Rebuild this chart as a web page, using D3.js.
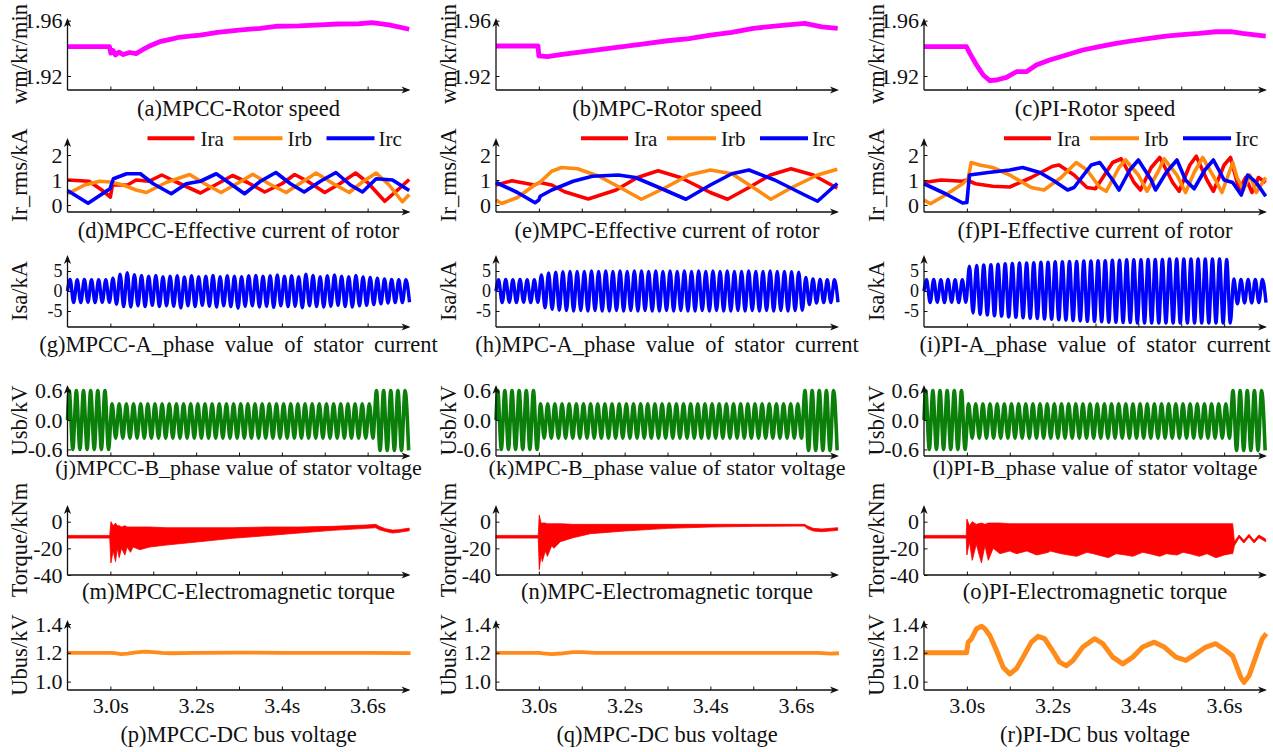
<!DOCTYPE html>
<html><head><meta charset="utf-8">
<script src="https://cdn.jsdelivr.net/npm/d3@7"></script>
<style>
html,body{margin:0;padding:0;background:#fff;}
svg text{font-family:"Liberation Serif","Times New Roman",serif;fill:#111;}
</style></head><body>
<svg id="chart" width="1273" height="752"></svg>
<script>
// ---------------- data ----------------
const timeDomain = [2.9, 3.7];
const timeTickLabels = [3.0, 3.2, 3.4, 3.6];
const timeTickAll = [3.0, 3.1, 3.2, 3.3, 3.4, 3.5, 3.6];
const controllers = ["MPCC", "MPC", "PI"];
const GRID_HZ = 60;

// rotor speed (kr/min)
const speedMPCC = [[2.9,1.9412],[2.998,1.9412],[3.001,1.9365],[3.006,1.9385],[3.012,1.9352],[3.02,1.9372],[3.03,1.9355],[3.045,1.937],[3.06,1.9362],[3.075,1.939],[3.09,1.9415],[3.115,1.9448],[3.14,1.9465],[3.16,1.948],[3.185,1.9488],[3.21,1.9496],[3.25,1.9515],[3.3,1.9532],[3.35,1.9545],[3.39,1.956],[3.44,1.9562],[3.49,1.957],[3.53,1.9576],[3.58,1.9578],[3.61,1.9586],[3.65,1.957],[3.697,1.9538]];
const speedMPC = [[2.9,1.9417],[2.998,1.9417],[3.0,1.9345],[3.02,1.934],[3.05,1.9355],[3.1,1.9375],[3.15,1.9395],[3.2,1.9415],[3.25,1.9435],[3.3,1.9455],[3.35,1.947],[3.4,1.9495],[3.45,1.9515],[3.5,1.9545],[3.55,1.956],[3.6,1.9575],[3.62,1.958],[3.66,1.9555],[3.697,1.9545]];
const speedPI = [[2.9,1.9412],[2.999,1.9412],[3.007,1.9364],[3.0225,1.928],[3.038,1.9207],[3.0535,1.9166],[3.069,1.9171],[3.0923,1.919],[3.1156,1.9231],[3.1388,1.9231],[3.162,1.928],[3.193,1.9316],[3.232,1.9352],[3.2705,1.9388],[3.309,1.9412],[3.348,1.9436],[3.3867,1.9455],[3.4256,1.9472],[3.4644,1.9489],[3.503,1.9499],[3.542,1.9508],[3.5807,1.952],[3.6193,1.952],[3.6426,1.9508],[3.697,1.9489]];

// rotor current rms (kA)
const iraMPCC = [[2.90,1.0],[2.95,0.95],[2.98,0.6],[3.0,0.32],[3.005,0.8],[3.04,0.8],[3.06,1.0],[3.09,0.95],[3.12,1.2],[3.15,0.95],[3.21,0.48],[3.25,0.85],[3.285,1.18],[3.32,0.9],[3.36,0.52],[3.40,0.85],[3.43,1.22],[3.46,0.95],[3.50,0.5],[3.535,0.85],[3.572,1.28],[3.60,0.9],[3.64,0.15],[3.67,0.6],[3.697,1.02]];
const irbMPCC = [[2.90,0.45],[2.94,0.8],[2.975,0.95],[3.0,0.92],[3.03,0.8],[3.06,0.6],[3.084,0.5],[3.13,0.9],[3.185,1.22],[3.22,0.85],[3.258,0.5],[3.30,0.9],[3.332,1.23],[3.37,0.85],[3.41,0.5],[3.45,0.95],[3.48,1.28],[3.52,0.85],[3.557,0.5],[3.59,0.95],[3.62,1.28],[3.65,0.8],[3.681,0.13],[3.697,0.42]];
const ircMPCC = [[2.90,0.58],[2.948,0.07],[2.999,0.65],[3.007,1.05],[3.038,1.25],[3.07,1.25],[3.10,0.85],[3.142,0.45],[3.177,0.85],[3.21,0.95],[3.247,1.25],[3.28,0.85],[3.313,0.45],[3.35,0.95],[3.386,1.3],[3.42,0.85],[3.452,0.52],[3.49,0.95],[3.526,1.3],[3.56,0.8],[3.588,0.52],[3.62,1.05],[3.658,1.0],[3.697,0.58]];
const iraMPC = [[2.90,0.8],[2.937,0.97],[2.99,0.8],[3.002,0.9],[3.03,0.8],[3.06,0.53],[3.115,0.24],[3.18,0.6],[3.23,1.1],[3.278,1.37],[3.33,1.1],[3.40,0.5],[3.44,0.23],[3.49,0.7],[3.54,1.2],[3.588,1.45],[3.64,1.2],[3.696,0.67]];
const irbMPC = [[2.90,0.2],[2.913,0.06],[2.95,0.3],[2.99,0.8],[3.002,0.9],[3.03,1.35],[3.053,1.5],[3.09,1.45],[3.14,1.15],[3.2,0.6],[3.239,0.23],[3.29,0.65],[3.35,1.2],[3.40,1.4],[3.45,1.25],[3.50,0.7],[3.541,0.23],[3.59,0.7],[3.65,1.2],[3.696,1.43]];
const ircMPC = [[2.90,0.9],[2.95,0.5],[2.991,0.09],[3.0,0.2],[3.003,0.35],[3.03,0.6],[3.08,0.95],[3.125,1.15],[3.185,1.2],[3.225,1.1],[3.28,0.7],[3.343,0.23],[3.40,0.8],[3.45,1.25],[3.49,1.4],[3.55,1.0],[3.62,0.4],[3.65,0.15],[3.696,0.86]];
const iraPI = [[2.9,0.9],[2.94,1.0],[2.99,0.95],[3.0,1.0],[3.02,0.85],[3.06,0.75],[3.1,0.72],[3.15,1.1],[3.2,1.55],[3.215,1.6],[3.25,1.2],[3.28,0.7],[3.30,0.65],[3.34,1.7],[3.36,1.85],[3.39,0.9],[3.405,0.6],[3.43,1.5],[3.45,1.9],[3.48,0.9],[3.495,0.55],[3.52,1.6],[3.535,1.95],[3.56,1.0],[3.575,0.55],[3.60,1.6],[3.615,1.9],[3.635,0.6],[3.65,1.1],[3.665,0.5],[3.68,1.1],[3.697,0.9]];
const irbPI = [[2.9,0.2],[2.915,0.05],[2.95,0.4],[2.99,0.85],[3.003,1.05],[3.01,1.7],[3.03,1.6],[3.06,1.5],[3.1,1.2],[3.15,0.7],[3.18,0.6],[3.22,1.1],[3.255,1.7],[3.28,1.4],[3.31,0.7],[3.325,0.55],[3.355,1.5],[3.37,1.8],[3.40,1.2],[3.42,0.55],[3.445,1.3],[3.46,1.85],[3.49,1.2],[3.51,0.5],[3.53,1.3],[3.55,1.9],[3.58,1.0],[3.595,0.5],[3.62,1.7],[3.63,1.1],[3.645,0.6],[3.66,1.2],[3.675,0.5],[3.697,1.1]];
const ircPI = [[2.9,0.85],[2.95,0.45],[2.99,0.08],[3.0,0.1],[3.006,1.2],[3.05,1.3],[3.1,1.4],[3.13,1.5],[3.17,1.3],[3.2,1.0],[3.235,0.6],[3.25,0.7],[3.29,1.6],[3.31,1.7],[3.34,1.0],[3.355,0.6],[3.38,1.4],[3.40,1.8],[3.43,1.0],[3.44,0.6],[3.465,1.3],[3.49,1.8],[3.51,1.0],[3.53,0.65],[3.555,1.4],[3.575,1.8],[3.6,1.0],[3.62,0.9],[3.64,0.4],[3.655,1.2],[3.675,0.9],[3.697,0.35]];

// stator current A phase: positive / negative peak of every grid cycle (kA)
const isaHiMPCC = [2.9,2.8,2.9,2.8,2.8,2.8, 3.2,4.2,4.6,4.1,3.9,3.7, 3.9,3.6,3.7,3.8,3.5,3.8, 3.6,3.7,3.9,3.6,3.8,3.7, 3.6,3.8,3.9,3.7,3.8,4.0, 3.7,3.8,3.6,4.2,3.9,3.6, 3.8,4.0,3.7,3.6,3.9,3.5, 3.4,3.2,3.0,2.9,2.8,2.8];
const isaLoMPCC = [-2.9,-2.9,-2.8,-2.9,-2.8,-2.8, -3.3,-3.9,-4.0,-3.7,-3.9,-3.6, -3.9,-3.7,-3.8,-4.2,-3.7,-3.9, -3.6,-3.8,-4.0,-3.7,-3.9,-4.3, -3.8,-3.7,-4.0,-3.8,-4.1,-3.7, -3.9,-3.8,-4.2,-3.7,-3.9,-4.0, -3.8,-3.6,-3.9,-4.0,-3.7,-3.6, -3.4,-3.2,-3.0,-2.9,-2.9,-2.8];
const isaHiMPC = [2.8,2.9,2.8,2.9,2.8,2.8, 4.0,4.5,4.7,4.8,4.9,4.9, 4.9,5.0,4.9,5.0,4.9,5.0, 4.9,5.0,5.0,4.9,5.0,4.9, 5.0,4.9,5.0,4.9,5.0,4.9, 5.0,4.9,5.0,4.9,4.9,5.0, 4.9,4.9,5.0,4.9,4.9,4.8, 4.7,3.4,3.0,2.9,2.8,2.8];
const isaLoMPC = [-2.9,-2.8,-2.9,-2.8,-2.9,-2.8, -4.2,-4.6,-4.8,-4.9,-5.0,-4.9, -5.0,-4.9,-5.0,-5.0,-4.9,-5.0, -4.9,-5.0,-4.9,-5.0,-5.0,-4.9, -5.0,-4.9,-5.0,-5.0,-4.9,-5.0, -4.9,-5.0,-5.0,-4.9,-5.0,-4.9, -5.0,-4.9,-5.0,-4.9,-5.0,-4.9, -4.8,-3.4,-3.0,-2.9,-2.9,-2.8];
const isaHiPI = [2.8,2.9,2.8,2.9,2.8,2.8, 6.2,6.4,6.5,6.6,6.7,6.8, 6.9,7.0,7.0,7.1,7.2,7.2, 7.3,7.3,7.4,7.4,7.5,7.5, 7.6,7.6,7.7,7.7,7.8,7.8, 7.8,7.9,7.9,7.9,8.0,8.0, 8.0,8.0,8.0,8.0,8.0,8.0, 7.9,3.0,2.9,2.9,2.9,2.9];
const isaLoPI = [-2.9,-2.8,-2.9,-2.8,-2.9,-2.8, -5.5,-5.8,-6.0,-6.2,-6.3,-6.5, -6.6,-6.7,-6.8,-6.9,-7.0,-7.1, -7.2,-7.3,-7.4,-7.5,-7.6,-7.6, -7.7,-7.8,-7.8,-7.9,-7.9,-8.0, -8.0,-8.0,-8.0,-8.0,-8.0,-8.0, -8.0,-8.0,-8.0,-8.0,-8.0,-8.0, -8.0,-3.2,-3.0,-3.0,-2.9,-2.9];

// stator voltage B phase: runs of grid cycles with their peak values (kV)
const usbMPCC = [{cycles:6, hi:0.6, lo:-0.6},{cycles:37, hi:0.33, lo:-0.37},{cycles:5, hi:0.6, lo:-0.62}];
const usbMPC  = [{cycles:6, hi:0.6, lo:-0.6},{cycles:37, hi:0.33, lo:-0.37},{cycles:5, hi:0.6, lo:-0.62}];
const usbPI   = [{cycles:6, hi:0.6, lo:-0.6},{cycles:37, hi:0.33, lo:-0.37},{cycles:5, hi:0.6, lo:-0.62}];

// electromagnetic torque envelope [t, upper, lower] (kNm)
const tqMPCC = [[2.9,-10.3,-12.3],[2.9985,-10.3,-12.3],[3.0012,0,-31],[3.0066,-3,-22],[3.012,-1,-30],[3.016,-3,-20],[3.0206,-3,-27],[3.026,-4,-20],[3.034,-3,-25],[3.039,-4,-19],[3.047,-4,-23],[3.053,-4,-19],[3.0686,-4,-21],[3.092,-4,-19],[3.131,-4.5,-17.5],[3.208,-4.5,-15],[3.285,-4.5,-12.5],[3.363,-4,-10.5],[3.44,-4,-8.5],[3.518,-3.5,-6.5],[3.596,-2.5,-5],[3.619,-2,-4.5],[3.627,-3.5,-6],[3.642,-5.3,-7.3],[3.658,-6.3,-8.5],[3.673,-6.0,-8.0],[3.697,-4.8,-6.8]];
const tqMPC = [[2.9,-10.3,-12.3],[2.9985,-10.3,-12.3],[3.001,5,-36],[3.005,-1,-25],[3.008,-1,-30],[3.015,-1,-22],[3.02,-1.5,-26],[3.03,-1.5,-18],[3.035,-1.5,-20],[3.05,-1.5,-15],[3.08,-2,-12],[3.12,-2,-9],[3.2,-2,-7],[3.3,-2,-5],[3.4,-2,-4],[3.5,-2,-3.5],[3.6,-2,-3.3],[3.62,-2,-3.3],[3.625,-3,-5],[3.64,-5,-7],[3.66,-5.5,-7.5],[3.697,-4.5,-6.5]];
const tqPI = [[2.9,-10.3,-12.3],[2.9985,-10.3,-12.3],[3.0,2,-25],[3.006,-3,-15],[3.0125,0,-29],[3.022,-2,-17],[3.034,-1,-31],[3.042,-2,-18],[3.05,-1,-29],[3.0613,-1,-20],[3.077,-1,-24],[3.1,-1.5,-22],[3.116,-1.5,-24],[3.14,-1.5,-22],[3.163,-1.5,-25],[3.19,-1.5,-23],[3.194,-1.5,-22],[3.22,-1.5,-24],[3.256,-1.5,-26],[3.28,-1.5,-23],[3.295,-1.5,-24],[3.33,-1.5,-27],[3.348,-1.5,-24],[3.37,-1.5,-25],[3.387,-1.5,-26],[3.41,-1.5,-23],[3.426,-1.5,-24],[3.45,-1.5,-26],[3.465,-1.5,-24],[3.49,-1.5,-25],[3.504,-1.5,-23],[3.52,-1.5,-24],[3.542,-1.5,-26],[3.56,-1.5,-24],[3.581,-1.5,-27],[3.60,-1.5,-25],[3.616,-1.5,-24],[3.62,-1.5,-24],[3.624,-15,-18],[3.635,-10,-12],[3.646,-14,-16],[3.658,-9.5,-11.5],[3.67,-14,-16],[3.681,-10,-12],[3.697,-13,-15]];

// DC bus voltage (kV)
const ubusMPCC = [[2.9,1.2],[3.0,1.2],[3.01,1.197],[3.025,1.191],[3.04,1.194],[3.06,1.203],[3.08,1.208],[3.1,1.205],[3.12,1.2],[3.14,1.197],[3.2,1.2],[3.3,1.201],[3.4,1.2],[3.5,1.2],[3.6,1.2],[3.7,1.198]];
const ubusMPC = [[2.9,1.2],[3.0,1.2],[3.01,1.196],[3.03,1.191],[3.05,1.195],[3.08,1.204],[3.1,1.205],[3.13,1.2],[3.2,1.199],[3.3,1.2],[3.4,1.2],[3.5,1.2],[3.6,1.2],[3.65,1.199],[3.68,1.194],[3.7,1.197]];
const ubusPI = [[2.9,1.2],[2.9993,1.2],[3.0031,1.274],[3.0109,1.298],[3.0225,1.367],[3.0342,1.384],[3.0419,1.367],[3.0535,1.32],[3.069,1.216],[3.0845,1.1],[3.1,1.053],[3.1156,1.09],[3.131,1.17],[3.1505,1.274],[3.166,1.314],[3.1814,1.298],[3.197,1.228],[3.2163,1.135],[3.2318,1.11],[3.2473,1.147],[3.2705,1.24],[3.2977,1.298],[3.3171,1.263],[3.3403,1.17],[3.3636,1.123],[3.3868,1.17],[3.41,1.24],[3.4372,1.274],[3.4605,1.24],[3.4876,1.17],[3.5109,1.147],[3.5341,1.193],[3.5574,1.24],[3.5806,1.263],[3.6039,1.216],[3.6194,1.18],[3.6271,1.123],[3.6388,1.03],[3.6465,0.995],[3.6581,1.04],[3.6736,1.17],[3.6891,1.298],[3.6984,1.333]];

const legendNames = ["Ira", "Irb", "Irc"];
const yLabels = ["wm/kr/min", "Ir_rms/kA", "Isa/kA", "Usb/kV", "Torque/kNm", "Ubus/kV"];
const yTickValues = [[1.92, 1.96], [0, 1, 2], [-5, 0, 5], [-0.6, 0.0, 0.6], [-40, -20, 0], [1.0, 1.2, 1.4]];
const panelCaptions = [
  ["(a)MPCC-Rotor speed", "(b)MPC-Rotor speed", "(c)PI-Rotor speed"],
  ["(d)MPCC-Effective current of rotor", "(e)MPC-Effective current of rotor", "(f)PI-Effective current of rotor"],
  ["(g)MPCC-A_phase value of stator current", "(h)MPC-A_phase value of stator current", "(i)PI-A_phase value of stator current"],
  ["(j)MPCC-B_phase value of stator voltage", "(k)MPC-B_phase value of stator voltage", "(l)PI-B_phase value of stator voltage"],
  ["(m)MPCC-Electromagnetic torque", "(n)MPC-Electromagnetic torque", "(o)PI-Electromagnetic torque"],
  ["(p)MPCC-DC bus voltage", "(q)MPC-DC bus voltage", "(r)PI-DC bus voltage"]
];

// ---------------- layout ----------------
const colX = [67.5, 496, 924];
const plotW = 343;
const legendShift = [0, 5, 0];
// per row: two reference values with their pixel rows, axis bottom/top, caption baseline and style
const rowLayout = [
  {v: [1.92, 1.96], p: [76, 20.7], bottom: 90, top: 18, cap: 115.7, capFont: 22.5, tickFont: 22, wordSp: 0, fmt: d => d.toFixed(2)},
  {v: [0, 2], p: [205, 155], bottom: 212, top: 138, cap: 237.7, capFont: 22.5, tickFont: 22, wordSp: 0, fmt: d => String(d)},
  {v: [-5, 5], p: [311, 271], bottom: 327, top: 255, cap: 351.7, capFont: 22.5, tickFont: 18, wordSp: 5, fmt: d => String(d)},
  {v: [-0.6, 0.6], p: [449.4, 390.6], bottom: 456, top: 385, cap: 475, capFont: 22, tickFont: 22, wordSp: 0, fmt: d => d.toFixed(1)},
  {v: [-40, 0], p: [575, 521.7], bottom: 575, top: 505, cap: 599, capFont: 22.5, tickFont: 22, wordSp: 0, fmt: d => String(d)},
  {v: [1.0, 1.4], p: [681.6, 624], bottom: 690, top: 620, cap: 741.7, capFont: 22.5, tickFont: 22, wordSp: 0, fmt: d => d.toFixed(1)}
];
const LABEL_FONT = 22.5;
const colors = {speed: "#ff00ff", ira: "#ff0000", irb: "#ff8a10", irc: "#0000ff", isa: "#0000ff", usb: "#0a800a", tq: "#ff0000", ubus: "#ff8c1a"};

const svg = d3.select("#chart");

// alternate positive / negative peaks, one pair per grid cycle
function cyclePeaks(hi, lo, phase) {
  const pts = [[timeDomain[0], 0]];
  hi.forEach((h, k) => {
    const t = timeDomain[0] + phase + k / GRID_HZ;
    pts.push([t, h]);
    pts.push([t + 0.5 / GRID_HZ, lo[k]]);
  });
  return pts.filter(p => p[0] <= timeDomain[1]);
}
function expandRuns(runs, key) {
  return runs.flatMap(r => Array(r.cycles).fill(r[key]));
}

const seriesByRow = [
  [speedMPCC, speedMPC, speedPI],
  [[iraMPCC, irbMPCC, ircMPCC], [iraMPC, irbMPC, ircMPC], [iraPI, irbPI, ircPI]],
  [[isaHiMPCC, isaLoMPCC], [isaHiMPC, isaLoMPC], [isaHiPI, isaLoPI]],
  [usbMPCC, usbMPC, usbPI],
  [tqMPCC, tqMPC, tqPI],
  [ubusMPCC, ubusMPC, ubusPI]
];

function arrowPath(tipX, tipY, dir) {
  if (dir === "right") return `M${tipX},${tipY} L${tipX-9},${tipY-3.6} L${tipX-6.5},${tipY} L${tipX-9},${tipY+3.6} Z`;
  return `M${tipX},${tipY} L${tipX-3.6},${tipY+9} L${tipX},${tipY+6.5} L${tipX+3.6},${tipY+9} Z`;
}

rowLayout.forEach((row, r) => {
  colX.forEach((x0, c) => {
    const x = d3.scaleLinear().domain(timeDomain).range([x0, x0 + plotW]);
    const y = d3.scaleLinear().domain(row.v).range(row.p);
    const g = svg.append("g");

    // traces
    const data = seriesByRow[r][c];
    const line = d3.line().x(d => x(d[0])).y(d => y(d[1]));
    const wave = d3.line().x(d => x(d[0])).y(d => y(d[1])).curve(d3.curveMonotoneX);
    if (r === 0) {
      g.append("path").datum(data).attr("d", line).attr("fill", "none")
        .attr("stroke", colors.speed).attr("stroke-width", 4.8).attr("stroke-linejoin", "round");
    } else if (r === 1) {
      [colors.ira, colors.irb, colors.irc].forEach((col, i) => {
        g.append("path").datum(data[i]).attr("d", line).attr("fill", "none")
          .attr("stroke", col).attr("stroke-width", 3.6).attr("stroke-linejoin", "round");
      });
    } else if (r === 2) {
      g.append("path").datum(cyclePeaks(data[0], data[1], 0.006)).attr("d", wave).attr("fill", "none")
        .attr("stroke", colors.isa).attr("stroke-width", 3.4);
    } else if (r === 3) {
      g.append("path").datum(cyclePeaks(expandRuns(data, "hi"), expandRuns(data, "lo"), 0.004)).attr("d", wave)
        .attr("fill", "none").attr("stroke", colors.usb).attr("stroke-width", 3.6);
    } else if (r === 4) {
      const area = d3.area().x(d => x(d[0])).y0(d => y(d[2])).y1(d => y(d[1]));
      g.append("path").datum(data).attr("d", area).attr("fill", colors.tq)
        .attr("stroke", colors.tq).attr("stroke-width", 0.8);
    } else {
      g.append("path").datum(data).attr("d", line).attr("fill", "none")
        .attr("stroke", colors.ubus).attr("stroke-width", c === 2 ? 5 : 3.8).attr("stroke-linejoin", "round");
    }

    // axes with arrow heads
    const ax = svg.append("g").attr("stroke", "#111").attr("fill", "#111");
    ax.append("line").attr("x1", x0).attr("x2", x0 + plotW - 2).attr("y1", row.bottom).attr("y2", row.bottom).attr("stroke-width", 1.3);
    ax.append("line").attr("x1", x0).attr("x2", x0).attr("y1", row.bottom).attr("y2", row.top + 2).attr("stroke-width", 1.3);
    ax.append("path").attr("d", arrowPath(x0 + plotW, row.bottom, "right")).attr("stroke", "none");
    ax.append("path").attr("d", arrowPath(x0, row.top, "up")).attr("stroke", "none");

    const xAxis = d3.axisBottom(x).tickValues(timeTickAll).tickSize(-3.5).tickPadding(7)
      .tickFormat(d => (r === 5 && timeTickLabels.some(v => Math.abs(v - d) < 1e-9)) ? d.toFixed(1) + "s" : "");
    const gx = svg.append("g").attr("transform", `translate(0,${row.bottom})`).call(xAxis);
    gx.select(".domain").remove();
    gx.selectAll("line").attr("stroke", "#111").attr("stroke-width", 1);
    gx.selectAll("text").attr("font-size", 22).attr("fill", "#111").attr("font-family", "Liberation Serif, Times New Roman, serif");

    const yAxis = d3.axisLeft(y).tickValues(yTickValues[r]).tickSize(-3.5).tickPadding(5).tickFormat(row.fmt);
    const gy = svg.append("g").attr("transform", `translate(${x0},0)`).call(yAxis);
    gy.select(".domain").remove();
    gy.selectAll("line").attr("stroke", "#111").attr("stroke-width", 1);
    gy.selectAll("text").attr("font-size", row.tickFont).attr("fill", "#111").attr("font-family", "Liberation Serif, Times New Roman, serif");

    // y label
    svg.append("text").attr("transform", `translate(${x0 - 48},${(row.bottom + row.top) / 2}) rotate(-90)`)
      .attr("text-anchor", "middle").attr("dominant-baseline", "central").attr("font-size", LABEL_FONT)
      .text(yLabels[r]);

    // caption
    svg.append("text").attr("x", x0 + 171).attr("y", row.cap).attr("text-anchor", "middle")
      .attr("font-size", row.capFont).attr("word-spacing", row.wordSp).text(panelCaptions[r][c]);

    // legend
    if (r === 1) {
      const lx = x0 + legendShift[c];
      const pos = [[80, 127, 133], [166, 215, 220], [259, 307, 311]];
      [colors.ira, colors.irb, colors.irc].forEach((col, i) => {
        svg.append("line").attr("x1", lx + pos[i][0]).attr("x2", lx + pos[i][1]).attr("y1", 138.3).attr("y2", 138.3)
          .attr("stroke", col).attr("stroke-width", 4);
        svg.append("text").attr("x", lx + pos[i][2]).attr("y", 145.5).attr("font-size", 21).text(legendNames[i]);
      });
    }
  });
});
</script>
</body></html>
